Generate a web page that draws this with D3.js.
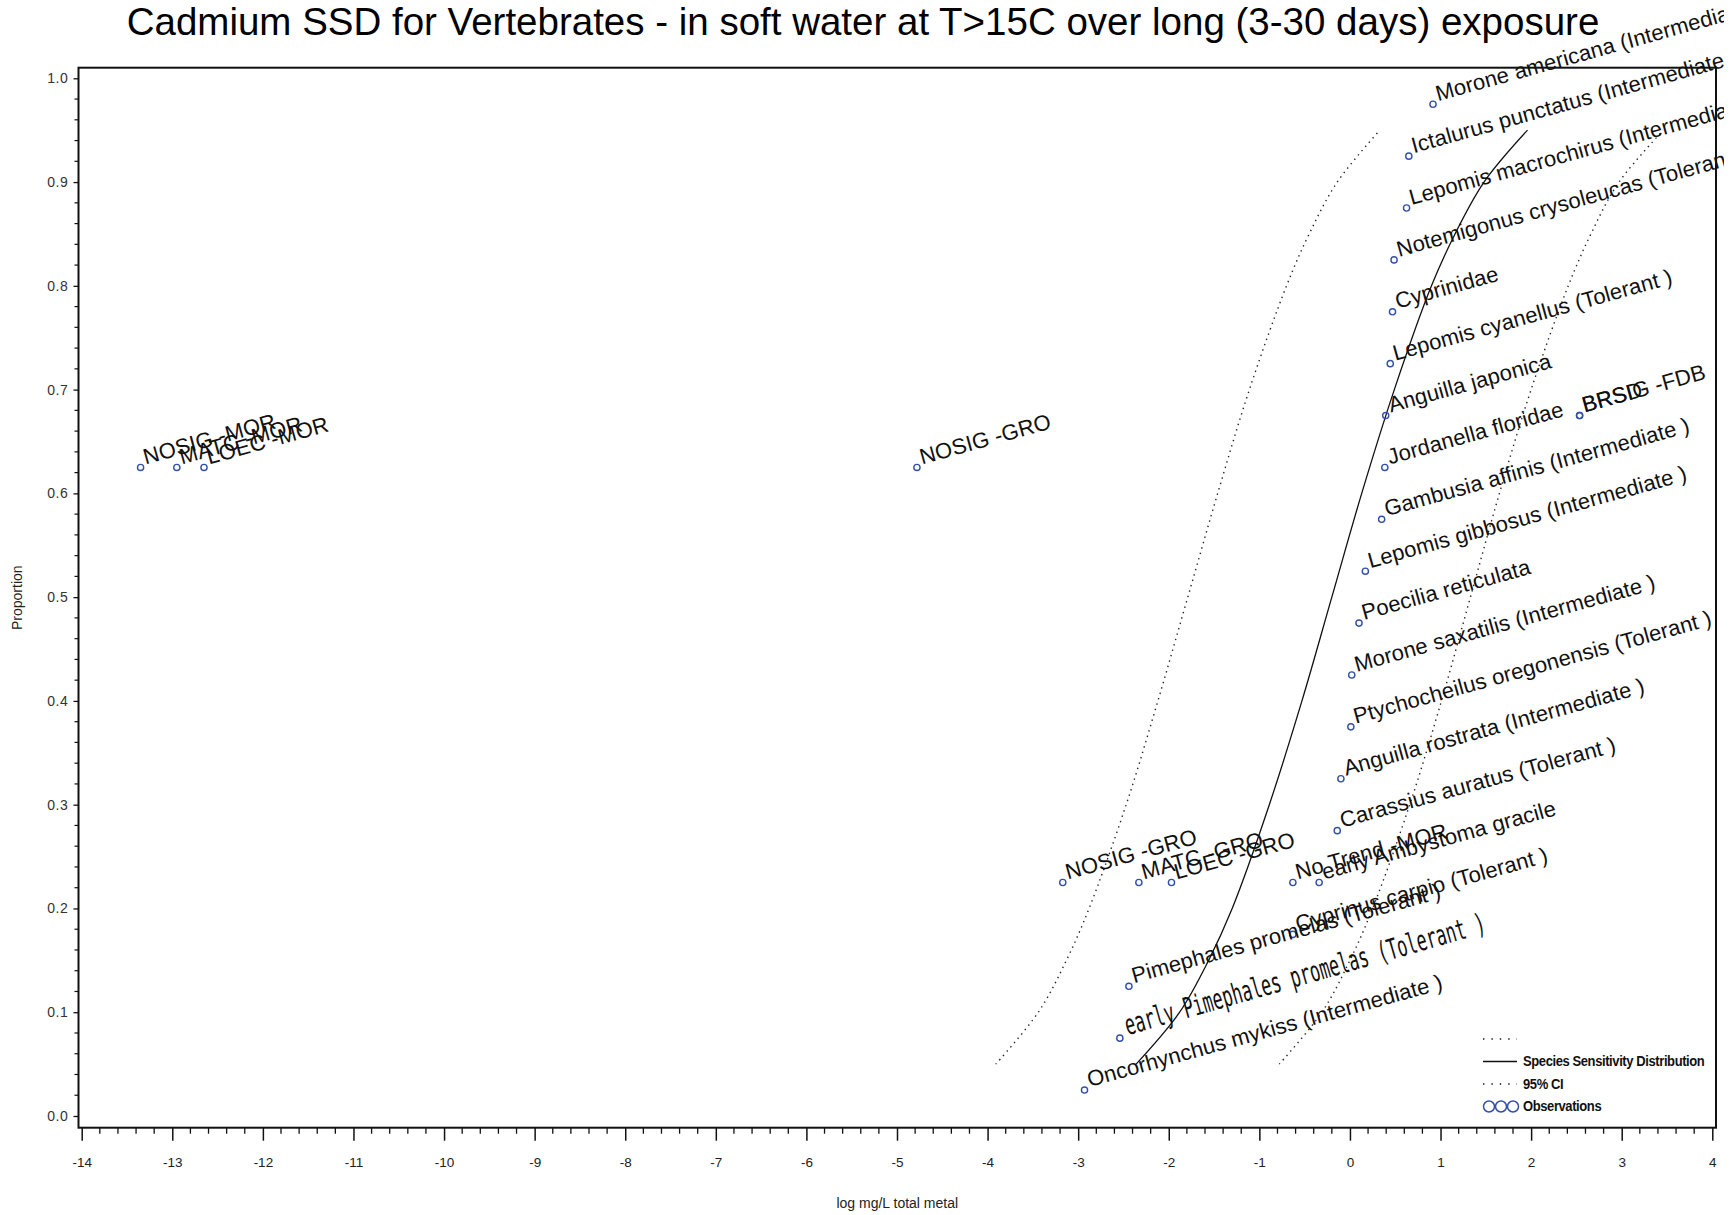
<!DOCTYPE html>
<html>
<head>
<meta charset="utf-8">
<script src="https://cdn.jsdelivr.net/npm/d3@7"></script>
<style>
  body { margin: 0; background: #fff; }
  svg { display: block; font-family: "Liberation Sans", Arial, sans-serif; }
</style>
</head>
<body>
<div id="chart"></div>
<script>
// observations: label, log concentration, plotting proportion
const labels = [
  "NOSIG -MOR", "MATC -MOR", "LOEC -MOR", "NOSIG -GRO",
  "NOSIG -GRO", "MATC -GRO", "LOEC -GRO", "No Trend -MOR", "early Ambystoma gracile",
  "Oncorhynchus mykiss (Intermediate )", "early Pimephales promelas (Tolerant )",
  "Pimephales promelas (Tolerant )", "Cyprinus carpio (Tolerant )",
  "Carassius auratus (Tolerant )", "Anguilla rostrata (Intermediate )",
  "Ptychocheilus oregonensis (Tolerant )", "Morone saxatilis (Intermediate )",
  "Poecilia reticulata", "Lepomis gibbosus (Intermediate )",
  "Gambusia affinis (Intermediate )", "Jordanella floridae", "Anguilla japonica",
  "BRSIG -FDB", "BRSD", "Lepomis cyanellus (Tolerant )", "Cyprinidae",
  "Notemigonus crysoleucas (Tolerant )", "Lepomis macrochirus (Intermediate )",
  "Ictalurus punctatus (Intermediate )", "Morone americana (Intermediate )"
]
const logConc = [
  -13.35, -12.95, -12.65, -4.78,
  -3.17, -2.33, -1.97, -0.63, -0.34,
  -2.93, -2.54,
  -2.44, -0.63,
  -0.14, -0.10,
  0.01, 0.02,
  0.10, 0.17,
  0.35, 0.385, 0.395,
  2.535, 2.535, 0.445, 0.47,
  0.487, 0.625,
  0.65, 0.917
]
const proportion = [
  0.625, 0.625, 0.625, 0.625,
  0.225, 0.225, 0.225, 0.225, 0.225,
  0.025, 0.075,
  0.125, 0.175,
  0.275, 0.325,
  0.375, 0.425,
  0.475, 0.525,
  0.575, 0.625, 0.675,
  0.675, 0.675, 0.725, 0.775,
  0.825, 0.875,
  0.925, 0.975
]

// fitted curve + 95% CI (x at each proportion)
const curveP = [0.05, 0.10, 0.15, 0.20, 0.30, 0.40, 0.50, 0.60, 0.70, 0.80, 0.85, 0.90, 0.95]
const ssdX   = [-2.36, -1.88, -1.56, -1.30, -0.89, -0.53, -0.20, 0.13, 0.49, 0.90, 1.16, 1.48, 1.96]
const lowerX = [-3.91, -3.44, -3.13, -2.88, -2.47, -2.12, -1.79, -1.46, -1.11, -0.70, -0.45, -0.14, 0.33]
const upperX = [-0.78, -0.31, 0.00, 0.25, 0.66, 1.01, 1.33, 1.65, 2.00, 2.41, 2.66, 2.97, 3.46]

const xTicks = d3.range(-14, 5, 1)
const yTicks = d3.range(0, 1.01, 0.1)

const legendItems = ["", "Species Sensitivity Distribution", "95% CI", "Observations"]

width = 1735
height = 1215
frame = ({ left: 78.5, right: 1716, top: 67.7, bottom: 1127.7 })

x = d3.scaleLinear([-14, 4], [81.7, 1712.3])
y = d3.scaleLinear([0, 1], [1116, 78.3])

const svg = d3.select("#chart").append("svg")
    .attr("width", width)
    .attr("height", height)

svg.append("defs").append("clipPath")
    .attr("id", "labelclip")
    .append("rect")
    .attr("x", 0).attr("y", 0)
    .attr("width", 1724).attr("height", height)

// title
svg.append("text")
    .attr("x", 863)
    .attr("y", 35)
    .attr("text-anchor", "middle")
    .attr("font-size", 38.5)
    .attr("fill", "#000")
    .text("Cadmium SSD for Vertebrates - in soft water at T>15C over long (3-30 days) exposure")

// frame
svg.append("rect")
    .attr("x", frame.left)
    .attr("y", frame.top)
    .attr("width", frame.right - frame.left)
    .attr("height", frame.bottom - frame.top)
    .attr("fill", "none")
    .attr("stroke", "#111")
    .attr("stroke-width", 2)

// x axis
const xAxis = svg.append("g")
    .attr("transform", `translate(0,${frame.bottom})`)
    .call(d3.axisBottom(x).tickValues(xTicks).tickSize(13).tickPadding(17)
        .tickFormat(d => String(d)))
xAxis.select(".domain").remove()
xAxis.selectAll(".tick line").attr("stroke", "#111").attr("stroke-width", 1.5)
xAxis.selectAll("text").attr("font-size", 13.5).attr("fill", "#222")
    .attr("font-family", "Liberation Sans, Arial, sans-serif")

svg.append("g")
    .attr("stroke", "#111")
    .attr("stroke-width", 1.3)
    .selectAll("line")
    .data(d3.range(-14, 4.001, 0.2).filter(v => Math.abs(v - Math.round(v)) > 0.01))
    .join("line")
    .attr("x1", d => x(d)).attr("x2", d => x(d))
    .attr("y1", frame.bottom).attr("y2", frame.bottom + 6)

// y axis
const yAxis = svg.append("g")
    .attr("transform", `translate(${frame.left},0)`)
    .call(d3.axisLeft(y).tickValues(yTicks).tickSize(5).tickPadding(5)
        .tickFormat(d3.format(".1f")))
yAxis.select(".domain").remove()
yAxis.selectAll(".tick line").attr("stroke", "#111").attr("stroke-width", 1.3)
yAxis.selectAll("text").attr("font-size", 14).attr("fill", "#333")
    .attr("letter-spacing", 0.6)
    .attr("font-family", "Liberation Sans, Arial, sans-serif")

svg.append("g")
    .attr("stroke", "#111")
    .attr("stroke-width", 1.2)
    .selectAll("line")
    .data(d3.range(0, 1.0001, 0.02).filter(v => Math.abs(v * 10 - Math.round(v * 10)) > 0.01))
    .join("line")
    .attr("x1", frame.left - 4).attr("x2", frame.left)
    .attr("y1", d => y(d)).attr("y2", d => y(d))

// axis titles
svg.append("text")
    .attr("x", (frame.left + frame.right) / 2)
    .attr("y", 1208)
    .attr("text-anchor", "middle")
    .attr("font-size", 14)
    .attr("fill", "#222")
    .text("log mg/L total metal")

svg.append("text")
    .attr("transform", `translate(22,${(frame.top + frame.bottom) / 2}) rotate(-90)`)
    .attr("text-anchor", "middle")
    .attr("font-size", 14)
    .attr("fill", "#222")
    .text("Proportion")

// curves
const curveLine = (xs) => d3.line()
    .x((d, i) => x(xs[i]))
    .y(d => y(d))
    .curve(d3.curveCatmullRom)(curveP)

svg.append("path")
    .attr("d", curveLine(lowerX))
    .attr("fill", "none")
    .attr("stroke", "#222")
    .attr("stroke-width", 1.4)
    .attr("stroke-dasharray", "1.4,4.2")

svg.append("path")
    .attr("d", curveLine(upperX))
    .attr("fill", "none")
    .attr("stroke", "#222")
    .attr("stroke-width", 1.4)
    .attr("stroke-dasharray", "1.4,4.2")

svg.append("path")
    .attr("d", curveLine(ssdX))
    .attr("fill", "none")
    .attr("stroke", "#111")
    .attr("stroke-width", 1.3)

// observations
const points = labels.map((label, i) => ({ label, conc: logConc[i], p: proportion[i] }))

svg.append("g")
    .selectAll("circle")
    .data(points)
    .join("circle")
    .attr("cx", d => x(d.conc))
    .attr("cy", d => y(d.p))
    .attr("r", 3.1)
    .attr("fill", "none")
    .attr("stroke", "#3350a8")
    .attr("stroke-width", 1.4)

const isOdd = d => d.label.startsWith("early Pimephales")

const labelG = svg.append("g").attr("clip-path", "url(#labelclip)")

labelG.selectAll("text")
    .data(points)
    .join("text")
    .attr("transform", d => {
        const tx = x(d.conc) + 5, ty = y(d.p) - 3
        if (isOdd(d)) return `translate(${tx + 3},${ty}) rotate(-16) scale(1.12,1.9)`
        return `translate(${tx},${ty}) rotate(-15.5)`
    })
    .attr("font-size", d => isOdd(d) ? 15 : 22)
    .attr("font-family", d => isOdd(d)
        ? "'DejaVu Sans Mono', monospace" : "'Liberation Sans', Arial, sans-serif")
    .attr("letter-spacing", d => isOdd(d) ? 0 : 0.1)
    .attr("fill", "#111")
    .text(d => d.label)

// legend
const legend = svg.append("g")
    .attr("transform", "translate(1483,1039)")

legendItems.forEach((name, i) => {
    const g = legend.append("g").attr("transform", `translate(0,${i * 22.5})`)
    if (i === 3) {
        [6, 18, 30].forEach(cx => g.append("circle")
            .attr("cx", cx).attr("cy", 0).attr("r", 5.5)
            .attr("fill", "none").attr("stroke", "#3350a8").attr("stroke-width", 1.5))
    } else {
        g.append("line")
            .attr("x1", 0).attr("x2", 34)
            .attr("stroke", "#111")
            .attr("stroke-width", 1.3)
            .attr("stroke-dasharray", i === 1 ? null : "1.4,7")
    }
    g.append("text")
        .attr("x", 40)
        .attr("y", 4.5)
        .attr("font-size", 13)
        .attr("font-weight", 600)
        .attr("fill", "#111")
        .attr("letter-spacing", -0.4)
        .attr("transform", "scale(1,1.1)")
        .text(name)
})
</script>
</body>
</html>
